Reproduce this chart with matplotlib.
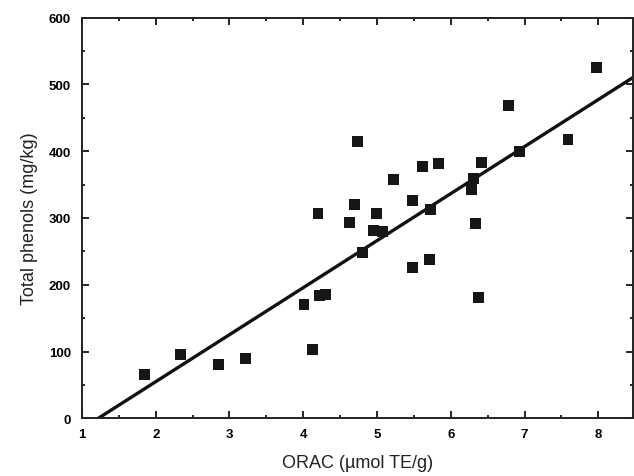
import numpy as np
import matplotlib
matplotlib.use("Agg")
import matplotlib.pyplot as plt
from matplotlib.ticker import MultipleLocator

# --------------------------------------
# Data
# --------------------------------------
orac = [1.85, 2.34, 2.85, 3.22, 4.01, 4.12, 4.22, 4.30, 4.20, 4.63,
        4.70, 4.73, 4.80, 4.95, 4.99, 5.07, 5.23, 5.48, 5.48, 5.62,
        5.71, 5.72, 5.84, 6.28, 6.31, 6.33, 6.38, 6.42, 6.78, 6.93,
        7.59, 7.98]
phenols = [65, 95, 81, 90, 170, 103, 184, 186, 306, 293,
           320, 414, 248, 281, 306, 279, 358, 326, 226, 377,
           238, 312, 382, 342, 359, 292, 181, 383, 469, 399,
           417, 525]

# regression line as drawn in the reference
fit_slope = 70.4
fit_intercept = -86.0

x_ticks = [1, 2, 3, 4, 5, 6, 7, 8]
y_ticks = [0, 100, 200, 300, 400, 500, 600]

plt.rcParams["font.family"] = ["Liberation Sans", "DejaVu Sans"]

x_fit = np.array([1.0, 8.5])
y_fit = fit_slope * x_fit + fit_intercept

# --------------------------------------
# Plot
# --------------------------------------
fig = plt.figure(figsize=(6.34, 4.77), dpi=100)
ax = fig.add_axes([0.1293, 0.121, 0.869, 0.840])

ax.plot(x_fit, y_fit, color="#111111", linewidth=2.4, zorder=2)
ax.scatter(orac, phenols, marker="s", s=62, color="#161616",
           edgecolors="none", zorder=3)

ax.set_xlim(1, 8.47)
ax.set_ylim(0, 600)
ax.set_xticks(x_ticks)
ax.set_yticks(y_ticks)
ax.xaxis.set_minor_locator(MultipleLocator(0.5))
ax.yaxis.set_minor_locator(MultipleLocator(50))

ax.tick_params(which="both", direction="in", top=True, right=True,
               labelsize=9.5, width=1.2)
ax.tick_params(axis="x", pad=7)
ax.tick_params(axis="y", pad=8)
ax.tick_params(which="major", length=5)
ax.tick_params(which="minor", length=2.5)
for lab in ax.get_xticklabels() + ax.get_yticklabels():
    lab.set_fontweight("bold")

for sp in ax.spines.values():
    sp.set_linewidth(1.4)
    sp.set_color("#222222")

ax.set_xlabel("ORAC (\u00b5mol TE/g)", fontsize=13, labelpad=10, color="#222222")
ax.set_ylabel("Total phenols (mg/kg)", fontsize=13, labelpad=8, color="#222222")

fig.savefig("out.png", dpi=100)
